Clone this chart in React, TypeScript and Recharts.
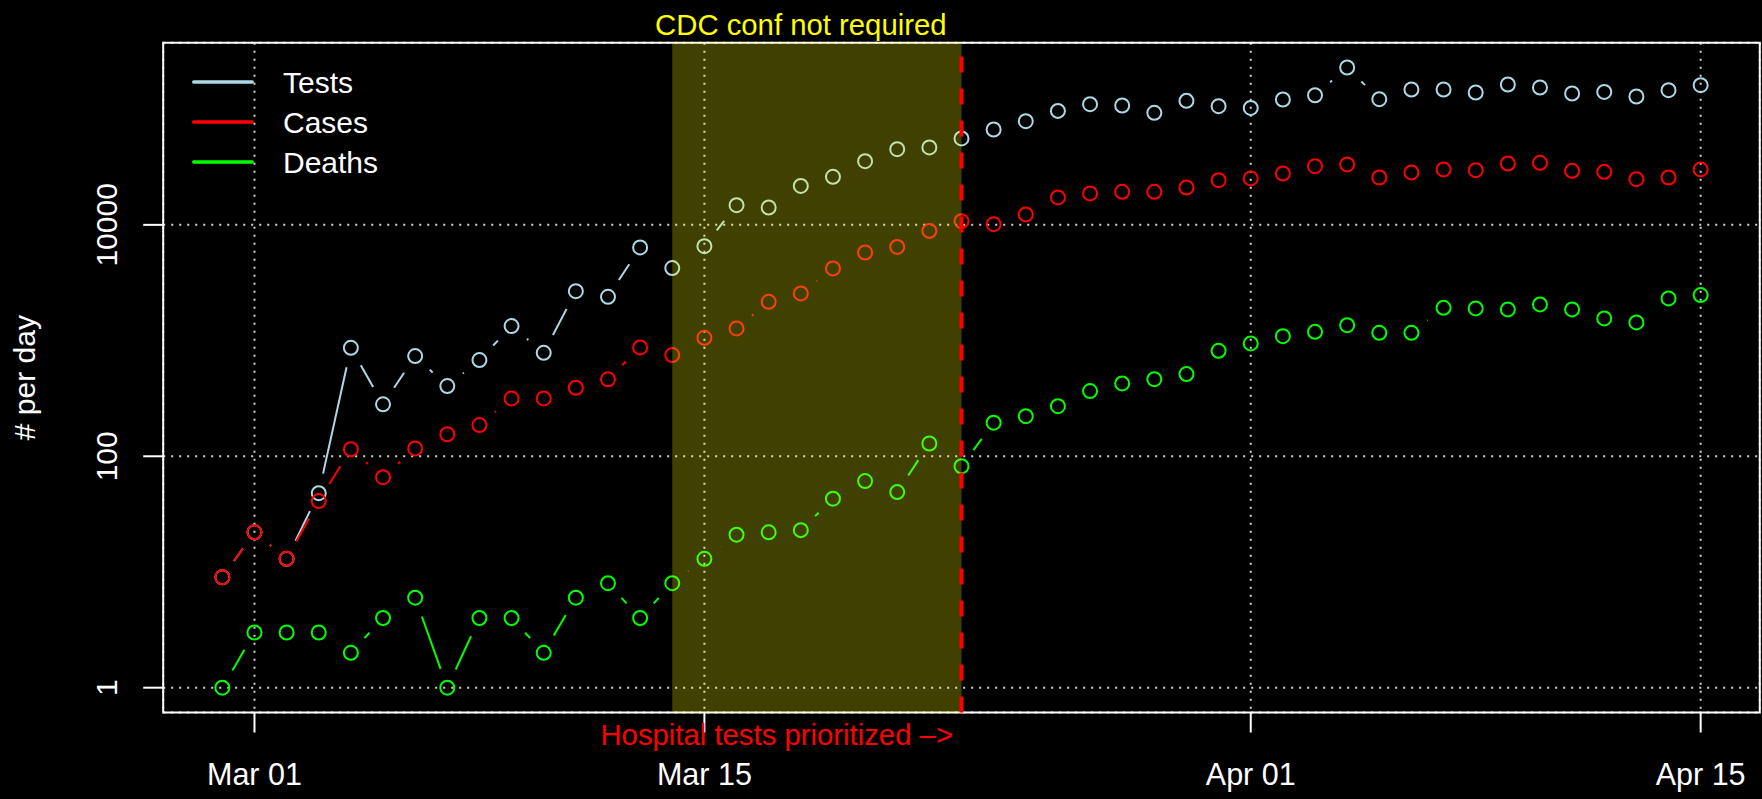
import React from "react";
import {
  ComposedChart,
  Line,
  XAxis,
  YAxis,
  CartesianGrid,
  ReferenceArea,
  ReferenceLine,
  Legend,
} from "recharts";

const FONT = "'Liberation Sans', Arial, Helvetica, sans-serif";

// one row per day, Feb 29 .. Apr 15 2020
const dates = [
  "2020-02-29",
  "2020-03-01", "2020-03-02", "2020-03-03", "2020-03-04", "2020-03-05", "2020-03-06",
  "2020-03-07", "2020-03-08", "2020-03-09", "2020-03-10", "2020-03-11", "2020-03-12",
  "2020-03-13", "2020-03-14", "2020-03-15", "2020-03-16", "2020-03-17", "2020-03-18",
  "2020-03-19", "2020-03-20", "2020-03-21", "2020-03-22", "2020-03-23", "2020-03-24",
  "2020-03-25", "2020-03-26", "2020-03-27", "2020-03-28", "2020-03-29", "2020-03-30",
  "2020-03-31",
  "2020-04-01", "2020-04-02", "2020-04-03", "2020-04-04", "2020-04-05", "2020-04-06",
  "2020-04-07", "2020-04-08", "2020-04-09", "2020-04-10", "2020-04-11", "2020-04-12",
  "2020-04-13", "2020-04-14", "2020-04-15",
];

const tests = [
  9, 22, 13, 48, 866, 281, 734, 404, 678, 1334, 784, 2673, 2388, 6380, 4230, 6545,
  14800, 14130, 21700, 26000, 35500, 45100, 46700, 55800, 66700, 78700, 96600,
  110400, 107500, 92900, 117900, 106000, 102500, 121200, 131900, 229000, 121900,
  147900, 147900, 139300, 163300, 153800, 136500, 140900, 128600, 145800, 161000,
];

const cases = [
  9, 22, 13, 41, 115, 66, 117, 155, 186, 316, 316, 391, 462, 873, 749, 1056, 1273,
  2161, 2554, 4200, 5770, 6450, 8870, 10770, 10140, 12300, 17260, 18680, 19280,
  19280, 21040, 24320, 25180, 27800, 32140, 33260, 25650, 28370, 30110, 29700,
  33900, 34340, 29300, 28720, 24820, 25650, 30110,
];

const deaths = [
  1, 3, 3, 3, 2, 4, 6, 1, 4, 4, 2, 6, 8, 4, 8, 13, 21, 22, 23, 43, 61, 49, 129, 82,
  195, 222, 271, 366, 426, 464, 513, 815, 944, 1092, 1190, 1358, 1167, 1167, 1919,
  1897, 1859, 2053, 1859, 1553, 1435, 2313, 2471,
];

const tickDates = ["2020-03-01", "2020-03-15", "2020-04-01", "2020-04-15"];
const tickLabels = ["Mar 01", "Mar 15", "Apr 01", "Apr 15"];
const yTicks = [1, 100, 10000];

const seriesKeys = ["tests", "cases", "deaths"];
const seriesNames = ["Tests", "Cases", "Deaths"];
const seriesColors = ["#add8e6", "#ff0000", "#00ff00"];

const cdcWindow = ["2020-03-14", "2020-03-23"];
const cdcLabelDate = "2020-03-18";
const hospitalDate = "2020-03-23";

const dayOf = (d: string) => dates.indexOf(d);

const data = dates.map((date, i) => ({
  day: i,
  date,
  tests: tests[i],
  cases: cases[i],
  deaths: deaths[i],
}));

// R-style 4% axis extension
const lastDay = dates.length - 1;
const xDomain = [-lastDay * 0.04, lastDay * 1.04];
const allValues = [...tests, ...cases, ...deaths];
const logLo = Math.log10(Math.min(...allValues));
const logHi = Math.log10(Math.max(...allValues));
const logPad = (logHi - logLo) * 0.04;
const yDomain = [10 ** (logLo - logPad), 10 ** (logHi + logPad)];

const xTicks = tickDates.map(dayOf);

// points with open circles, segments broken around each point (like type = "b")
const GAP = 20;
function typeBDot(color: string, name: string) {
  const seen: { x: number; y: number }[] = [];
  return (props: any) => {
    const { cx, cy, index } = props;
    const k = `${name}-${index}`;
    if (cx == null || cy == null || Number.isNaN(cx) || Number.isNaN(cy)) return <g key={k} />;
    seen[index] = { x: cx, y: cy };
    const prev = index > 0 ? props.points?.[index - 1] ?? seen[index - 1] : null;
    let seg = null;
    if (prev && prev.x != null && prev.y != null) {
      const dx = cx - prev.x;
      const dy = cy - prev.y;
      const d = Math.hypot(dx, dy);
      if (d > 2 * GAP) {
        const ux = dx / d;
        const uy = dy / d;
        seg = (
          <line
            x1={prev.x + ux * GAP}
            y1={prev.y + uy * GAP}
            x2={cx - ux * GAP}
            y2={cy - uy * GAP}
            stroke={color}
            strokeWidth={2}
          />
        );
      }
    }
    return (
      <g key={k}>
        {seg}
        <circle cx={cx} cy={cy} r={7} fill="none" stroke={color} strokeWidth={2} />
      </g>
    );
  };
}

const dots = seriesKeys.map((k, i) => typeBDot(seriesColors[i], k));

const XTick = (p: any) => {
  const i = xTicks.indexOf(p.payload?.value);
  return (
    <text x={p.x} y={p.y} dy="0.71em" textAnchor="middle" fill="#fff" fontSize={30.5} fontFamily={FONT}>
      {tickLabels[i] ?? ""}
    </text>
  );
};

const YTick = (p: any) => (
  <text
    x={p.x}
    y={p.y}
    transform={`rotate(-90 ${p.x} ${p.y})`}
    textAnchor="middle"
    fill="#fff"
    fontSize={30}
    fontFamily={FONT}
  >
    {String(p.payload?.value)}
  </text>
);

const LegendBox = () => (
  <svg width={240} height={130} style={{ display: "block" }}>
    {seriesNames.map((n, i) => (
      <g key={n}>
        <line
          x1={1.75}
          x2={60.25}
          y1={20 + 40 * i}
          y2={20 + 40 * i}
          stroke={seriesColors[i]}
          strokeWidth={3.5}
          strokeLinecap="round"
        />
        <text x={91} y={20 + 40 * i} dy="0.36em" fill="#fff" fontSize={30} fontFamily={FONT}>
          {n}
        </text>
      </g>
    ))}
  </svg>
);

export default function App() {
  return (
    <div style={{ position: "absolute", left: 0, top: 0, width: 1762, height: 799, background: "#000" }}>
      <ComposedChart
        width={1762}
        height={799}
        data={data}
        margin={{ top: 42.7, right: 2.2, bottom: 0, left: 0 }}
      >
        <CartesianGrid stroke="#d3d3d3" strokeDasharray="2 6" strokeWidth={2} />
        <XAxis
          type="number"
          dataKey="day"
          domain={xDomain}
          ticks={xTicks}
          interval={0}
          allowDataOverflow
          height={86.5}
          tickSize={20}
          tickMargin={30.7}
          axisLine={false}
          tickLine={{ stroke: "#fff", strokeWidth: 2 }}
          tick={<XTick />}
        />
        <YAxis
          type="number"
          scale="log"
          domain={yDomain}
          ticks={yTicks}
          interval={0}
          allowDataOverflow
          width={163.2}
          tickSize={20}
          tickMargin={26.5}
          axisLine={false}
          tickLine={{ stroke: "#fff", strokeWidth: 2 }}
          tick={<YTick />}
          label={(p: any) => {
            const vb = p.viewBox ?? { x: 0, y: 42.7, height: 669.8 };
            const x = vb.x + 35.5;
            const y = vb.y + vb.height / 2;
            return (
              <text
                x={x}
                y={y}
                transform={`rotate(-90 ${x} ${y})`}
                textAnchor="middle"
                fill="#fff"
                fontSize={30}
                fontFamily={FONT}
              >
                # per day
              </text>
            );
          }}
        />
        <ReferenceArea
          x1={xDomain[0]}
          x2={xDomain[1]}
          y1={yDomain[0]}
          y2={yDomain[1]}
          ifOverflow="visible"
          fill="none"
          stroke="#fff"
          strokeWidth={2}
        />
        {seriesKeys.map((k, i) => (
          <Line
            key={k}
            dataKey={k}
            name={seriesNames[i]}
            stroke="none"
            dot={dots[i]}
            activeDot={false}
            isAnimationActive={false}
          />
        ))}
        <ReferenceArea
          x1={dayOf(cdcWindow[0])}
          x2={dayOf(cdcWindow[1])}
          fill="#ffff00"
          fillOpacity={0.25}
          stroke="none"
          zIndex={1500}
        />
        <ReferenceLine
          x={dayOf(hospitalDate)}
          stroke="#ff0000"
          strokeWidth={4}
          strokeDasharray="16 16"
          zIndex={1600}
          label={(p: any) => {
            const vb = p.viewBox ?? {};
            return (
              <text
                x={vb.x - 8.5}
                y={vb.y + vb.height + 32.5}
                textAnchor="end"
                fill="#ff0000"
                fontSize={29.3}
                fontFamily={FONT}
              >
                Hospital tests prioritized –&gt;
              </text>
            );
          }}
        />
        <ReferenceLine
          x={dayOf(cdcLabelDate)}
          stroke="none"
          label={(p: any) => {
            const vb = p.viewBox ?? {};
            return (
              <text x={vb.x} y={vb.y - 8} textAnchor="middle" fill="#ffff00" fontSize={29.3} fontFamily={FONT}>
                CDC conf not required
              </text>
            );
          }}
        />
        <Legend
          layout="horizontal"
          verticalAlign="middle"
          align="center"
          content={<LegendBox />}
          wrapperStyle={{ left: 192, top: 62.3, width: 240, height: 130 }}
        />
      </ComposedChart>
    </div>
  );
}
